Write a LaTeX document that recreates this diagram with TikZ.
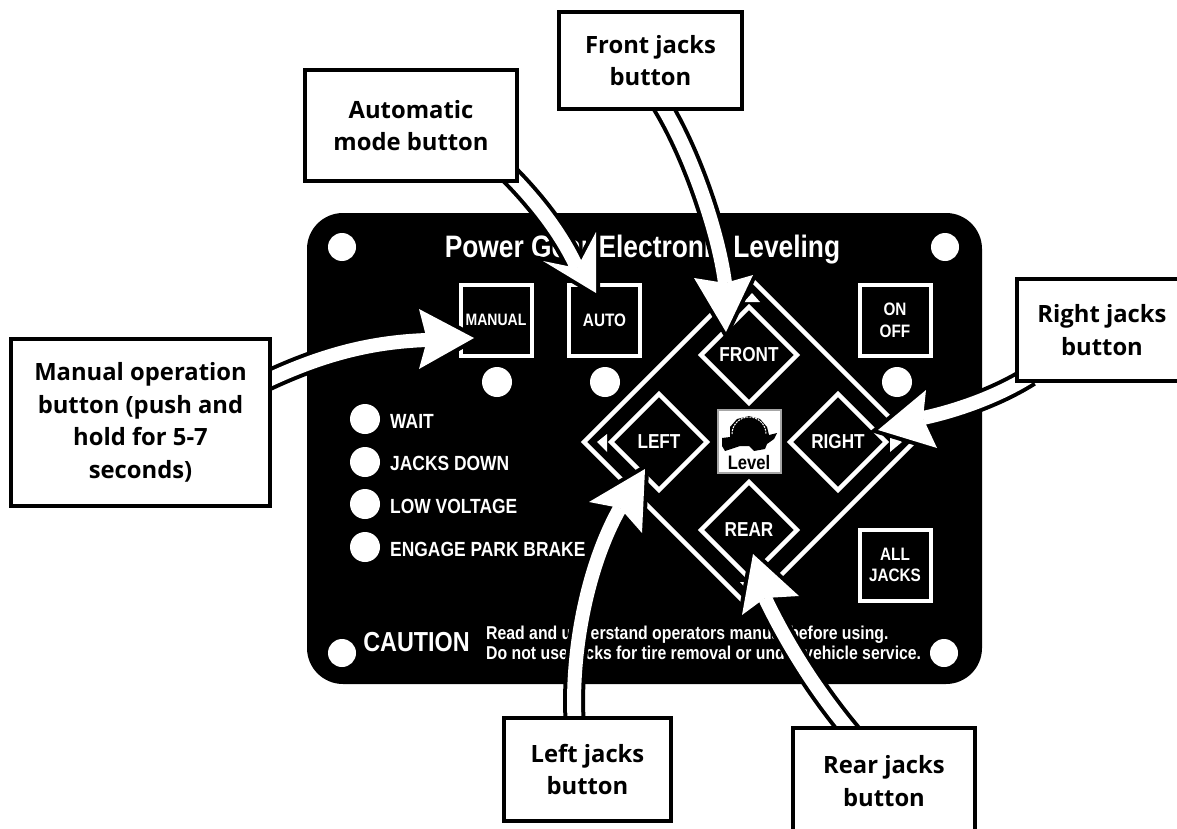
\documentclass[tikz,border=0pt]{standalone}
\usepackage{fontspec}
\usetikzlibrary{shapes.geometric}
\newfontfamily\platefont{Liberation Sans Bold}[FakeStretch=0.85]
\newfontfamily\calloutfont{Open Sans Bold}
\newcommand{\psz}[1]{\fontsize{#1}{#1}\selectfont\platefont}
\pgfdeclarelayer{panellayer}
\pgfdeclarelayer{arrowlayer}
\pgfsetlayers{panellayer,arrowlayer,main}
\tikzset{
  callout/.style={draw=black,fill=white,line width=4pt,inner sep=0pt,outer sep=0pt,align=center,text=black,
    font=\fontsize{23.8}{32.5}\selectfont\calloutfont},
  squarebtn/.style={draw=white,line width=4pt,inner sep=0pt,outer sep=0pt,minimum width=71pt,minimum height=71pt,text=white,align=center},
  diabtn/.style={diamond,aspect=1,draw=white,line width=4.5pt,inner sep=0pt,outer sep=0pt,minimum width=96pt,minimum height=96pt,text=white,font=\psz{20.2}},
  led/.style={circle,fill=white,inner sep=0pt,outer sep=0pt,minimum size=30pt},
  hole/.style={circle,fill=white,inner sep=0pt,outer sep=0pt,minimum size=28pt},
  ledlabel/.style={anchor=west,inner sep=0pt,text=white,font=\psz{20.5}},
  platetext/.style={inner sep=0pt,text=white},
}
\newcommand{\callarrow}[7]{%
  % start, tip, c1, c2, notch offset, barb offset, barb offset
  \draw[black,line width=22pt] #1 .. controls #3 and #4 .. ([shift={#5}]#2);
  \draw[black,line width=8pt,miter limit=20,line join=miter] (#2) -- ([shift={#6}]#2) -- ([shift={#5}]#2) -- ([shift={#7}]#2) -- cycle;
  \draw[white,line width=14pt] #1 .. controls #3 and #4 .. ([shift={#5}]#2);
  \fill[white] (#2) -- ([shift={#6}]#2) -- ([shift={#5}]#2) -- ([shift={#7}]#2) -- cycle;
}
\begin{document}
\begin{tikzpicture}[x=1pt,y=-1pt]
\useasboundingbox (0,0) rectangle (1177,829);
\begin{pgfonlayer}{panellayer}
\node[fill=black,rounded corners=36pt,inner sep=0pt,outer sep=0pt,minimum width=675pt,minimum height=471pt] (panel) at (644.5,448.5) {};
\node[hole] (h1) at (342,247) {};
\node[hole] (h2) at (945,247) {};
\node[hole] (h3) at (342,653) {};
\node[hole] (h4) at (944,653) {};
\node[platetext,font=\psz{31}] (title) at (642.5,250) {Power Gear Electronic Leveling};
\node[squarebtn,font=\psz{16.5}] (manualbtn) at (496,320) {MANUAL};
\node[squarebtn,font=\psz{18}] (autobtn) at (604.5,320) {AUTO};
\node[squarebtn,font=\fontsize{18}{22}\selectfont\platefont] (onbtn) at (895,320) {ON\\OFF};
\node[squarebtn,font=\fontsize{18}{21}\selectfont\platefont] (allbtn) at (895,565) {ALL\\JACKS};
\node[led] (l1) at (497,382) {};
\node[led] (l2) at (605,382) {};
\node[led] (l3) at (897,382) {};
\node[led] (w1) at (365,419) {};
\node[led] (w2) at (365,462) {};
\node[led] (w3) at (365,504) {};
\node[led] (w4) at (365,547) {};
\node[ledlabel] (t1) at (390,421) {WAIT};
\node[ledlabel] (t2) at (390,463) {JACKS DOWN};
\node[ledlabel] (t3) at (390,506) {LOW VOLTAGE};
\node[ledlabel] (t4) at (390,549) {ENGAGE PARK BRAKE};
\node[diamond,aspect=1,draw=white,line width=4.5pt,inner sep=0pt,outer sep=0pt,minimum width=330pt,minimum height=330pt] (big) at (749,442) {};
\node[diabtn] (frontbtn) at (749,355) {FRONT};
\node[diabtn] (leftbtn) at (659,442) {LEFT};
\node[diabtn] (rightbtn) at (838,442) {RIGHT};
\node[diabtn] (rearbtn) at (749,530) {REAR};
\fill[white] (752,293) -- (760,302) -- (744,302) -- cycle;
\fill[white] (597,442) -- (607,434) -- (607,452) -- cycle;
\fill[white] (902,442) -- (890,434) -- (890,452) -- cycle;
\fill[white] (749,592) -- (740,582) -- (758,582) -- cycle;
\node[draw=black!35,line width=2pt,fill=white,inner sep=0pt,outer sep=0pt,minimum width=63pt,minimum height=63pt] (levelbox) at (749,441) {};
\fill[black] (722,438) -- (730,437) -- (730,427) -- (737,419) -- (749,416) -- (760,419) -- (767,427) -- (769,435) -- (777,433) -- (774,439) -- (767,444) -- (765,449) -- (754,451) -- (749,446) -- (740,446) -- (725,451) -- (722,446) -- cycle;
\draw[white,line width=1pt,dash pattern=on 2pt off 1pt] (732,434) arc (180:360:17);
\node[inner sep=0pt,text=black,font=\psz{19.5}] (leveltext) at (749,463) {Level};
\node[platetext,font=\psz{27.5}] (caution) at (416.5,642) {CAUTION};
\node[platetext,font=\psz{18.6},anchor=west] (read1) at (486,635) {Read and understand operators manual before using.};
\node[platetext,font=\psz{18.6},anchor=west] (read2) at (486,655) {Do not use jacks for tire removal or under vehicle service.};
\end{pgfonlayer}
\node[callout,minimum width=259pt,minimum height=167pt] (cmanual) at (140.5,422.5) {Manual operation\\button (push and\\hold for 5-7\\seconds)};
\node[callout,minimum width=212pt,minimum height=111pt] (cauto) at (411,125.5) {Automatic\\mode button};
\node[callout,minimum width=183pt,minimum height=97pt] (cfront) at (650.5,60.5) {Front jacks\\button};
\node[callout,minimum width=170pt,minimum height=102pt] (cright) at (1102,330) {Right jacks\\button};
\node[callout,minimum width=167pt,minimum height=103pt] (cleft) at (587.5,769.5) {Left jacks\\button};
\node[callout,minimum width=182pt,minimum height=106pt] (crear) at (884,781) {Rear jacks\\button};
\coordinate (tipmanual) at ([shift={(-22,18)}]manualbtn.center);
\coordinate (tipauto) at ([shift={(-8.5,-27)}]autobtn.center);
\coordinate (tipfront) at ([shift={(-23,-23)}]frontbtn.center);
\coordinate (tipright) at ([shift={(40,-12)}]rightbtn.center);
\coordinate (tipleft) at ([shift={(-14,27)}]leftbtn.center);
\coordinate (tiprear) at ([shift={(4,24)}]rearbtn.center);
\begin{pgfonlayer}{arrowlayer}
\callarrow{([shift={(-10,-38.5)}]cmanual.east)}{tipmanual}{(320,355)}{(370,342)}{(-47,2)}{(-55,-29)}{(-55,31)}
\callarrow{([shift={(-9,-8)}]cauto.south east)}{tipauto}{(530,195)}{(560,230)}{(-19,-25)}{(0,-61)}{(-53,-32)}
\callarrow{([shift={(10,-6)}]cfront.south)}{tipfront}{(690,150)}{(718,230)}{(-1,-49)}{(-32,-54)}{(27,-57)}
\callarrow{([shift={(13,-5)}]cright.south west)}{tipright}{(1000,395)}{(960,410)}{(45,-12)}{(48,-40)}{(59,18)}
\callarrow{([shift={(-12.5,9)}]cleft.north)}{tipleft}{(570,660)}{(585,570)}{(-25,39)}{(-56,33)}{(-3,64)}
\callarrow{([shift={(-29,9)}]crear.north)}{tiprear}{(815,690)}{(785,640)}{(12,44)}{(-11,61)}{(46,42)}
\end{pgfonlayer}
\end{tikzpicture}
\end{document}
